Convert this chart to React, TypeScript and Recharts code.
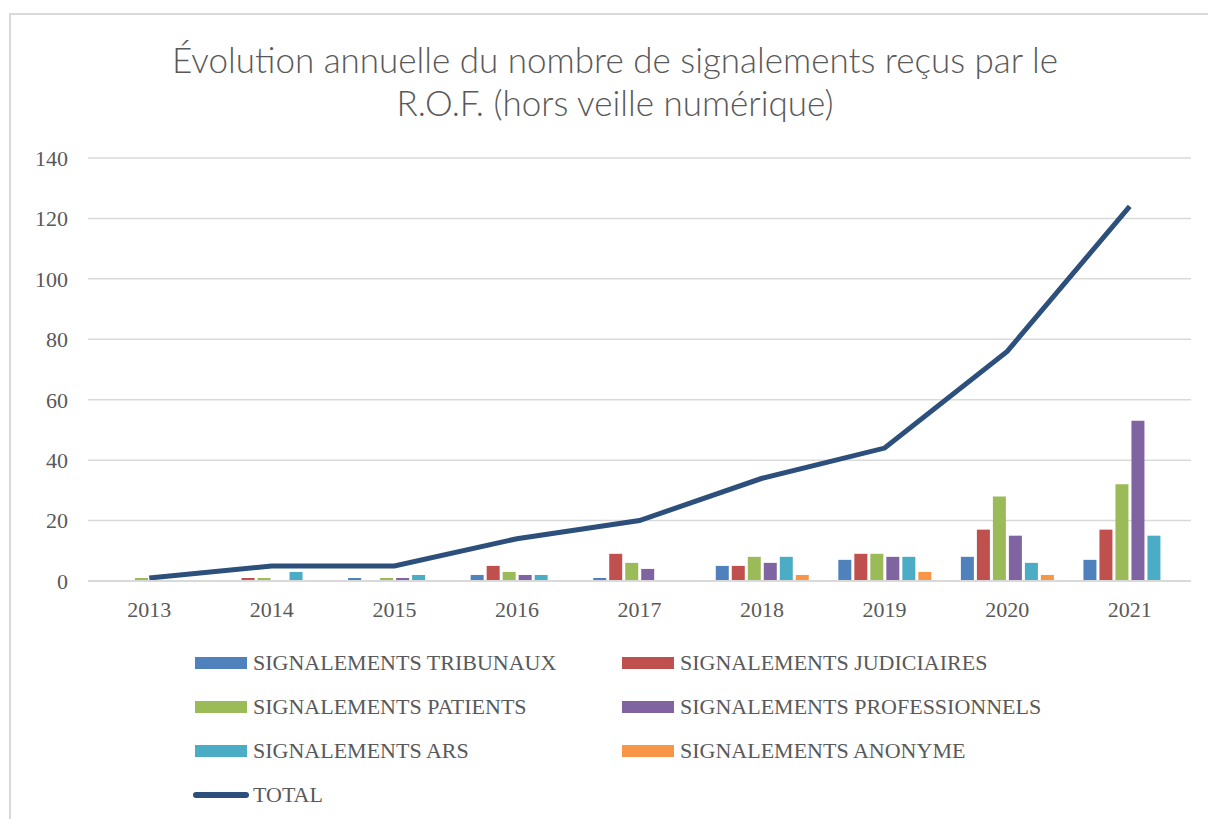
import React from 'react';
import { ComposedChart, Bar, Line, XAxis, YAxis, CartesianGrid } from 'recharts';

const years = ['2013', '2014', '2015', '2016', '2017', '2018', '2019', '2020', '2021'];
const tribunaux = [0, 0, 1, 2, 1, 5, 7, 8, 7];
const judiciaires = [0, 1, 0, 5, 9, 5, 9, 17, 17];
const patients = [1, 1, 1, 3, 6, 8, 9, 28, 32];
const professionnels = [0, 0, 1, 2, 4, 6, 8, 15, 53];
const ars = [0, 3, 2, 2, 0, 8, 8, 6, 15];
const anonyme = [0, 0, 0, 0, 0, 2, 3, 2, 0];
const total = [1, 5, 5, 14, 20, 34, 44, 76, 124];
const yTicks = [0, 20, 40, 60, 80, 100, 120, 140];

const series = [
  { key: 'tribunaux', name: 'SIGNALEMENTS TRIBUNAUX', color: '#4f81bd', values: tribunaux },
  { key: 'judiciaires', name: 'SIGNALEMENTS JUDICIAIRES', color: '#c0504d', values: judiciaires },
  { key: 'patients', name: 'SIGNALEMENTS PATIENTS', color: '#9bbb59', values: patients },
  { key: 'professionnels', name: 'SIGNALEMENTS PROFESSIONNELS', color: '#8064a2', values: professionnels },
  { key: 'ars', name: 'SIGNALEMENTS ARS', color: '#4bacc6', values: ars },
  { key: 'anonyme', name: 'SIGNALEMENTS ANONYME', color: '#f79646', values: anonyme },
];
const totalColor = '#2c4f7c';

const data = years.map((year, i) => {
  const row: Record<string, string | number> = { year, total: total[i] };
  series.forEach((s) => {
    row[s.key] = s.values[i];
  });
  return row;
});

const serif = '"Liberation Serif", "DejaVu Serif", serif';
const textColor = '#595959';

function LegendItem({ name, color, line }: { name: string; color: string; line?: boolean }) {
  return (
    <div style={{ display: 'flex', alignItems: 'center', height: 44 }}>
      {line ? (
        <div style={{ width: 56, height: 6, borderRadius: 3, background: color, marginLeft: -2, marginRight: 4 }} />
      ) : (
        <div style={{ width: 52, height: 12, background: color, marginRight: 6 }} />
      )}
      <span style={{ fontFamily: serif, fontSize: 22, color: textColor }}>{name}</span>
    </div>
  );
}

export default function App() {
  return (
    <div
      style={{
        position: 'absolute',
        left: 9,
        top: 13,
        width: 1210,
        height: 820,
        border: '2px solid #d9d9d9',
        background: '#fff',
        boxSizing: 'border-box',
      }}
    >
      <div
        style={{
          position: 'absolute',
          left: 0,
          top: 23,
          width: 1208,
          textAlign: 'center',
          fontFamily: 'Lato, "Open Sans", sans-serif',
          fontWeight: 300,
          fontSize: 35,
          lineHeight: '43px',
          color: textColor,
        }}
      >
        Évolution annuelle du nombre de signalements reçus par le
        <br />
        R.O.F. (hors veille numérique)
      </div>
      <div style={{ position: 'absolute', left: 0, top: 0 }}>
        <ComposedChart
          width={1197}
          height={640}
          data={data}
          margin={{ top: 143, right: 17, bottom: 0, left: 0 }}
          barSize={13}
          barGap={3}
        >
          <CartesianGrid vertical={false} stroke="#d9d9d9" strokeWidth={1.5} />
          <XAxis
            dataKey="year"
            axisLine={{ stroke: '#d9d9d9', strokeWidth: 2 }}
            tickLine={false}
            height={74}
            tickMargin={14}
            tick={{ fill: textColor, fontSize: 22, fontFamily: serif }}
          />
          <YAxis
            width={77}
            domain={[0, 140]}
            ticks={yTicks}
            axisLine={false}
            tickLine={false}
            tickMargin={14}
            tick={{ fill: textColor, fontSize: 22, fontFamily: serif }}
          />
          {series.map((s) => (
            <Bar key={s.key} dataKey={s.key} name={s.name} fill={s.color} isAnimationActive={false} />
          ))}
          <Line
            dataKey="total"
            name="TOTAL"
            stroke={totalColor}
            strokeWidth={5}
            dot={false}
            activeDot={false}
            isAnimationActive={false}
          />
        </ComposedChart>
      </div>
      <div style={{ position: 'absolute', left: 184, top: 626, display: 'flex' }}>
        <div style={{ width: 427 }}>
          {[series[0], series[2], series[4]].map((s) => (
            <LegendItem key={s.key} name={s.name} color={s.color} />
          ))}
          <LegendItem name="TOTAL" color={totalColor} line />
        </div>
        <div>
          {[series[1], series[3], series[5]].map((s) => (
            <LegendItem key={s.key} name={s.name} color={s.color} />
          ))}
        </div>
      </div>
    </div>
  );
}
